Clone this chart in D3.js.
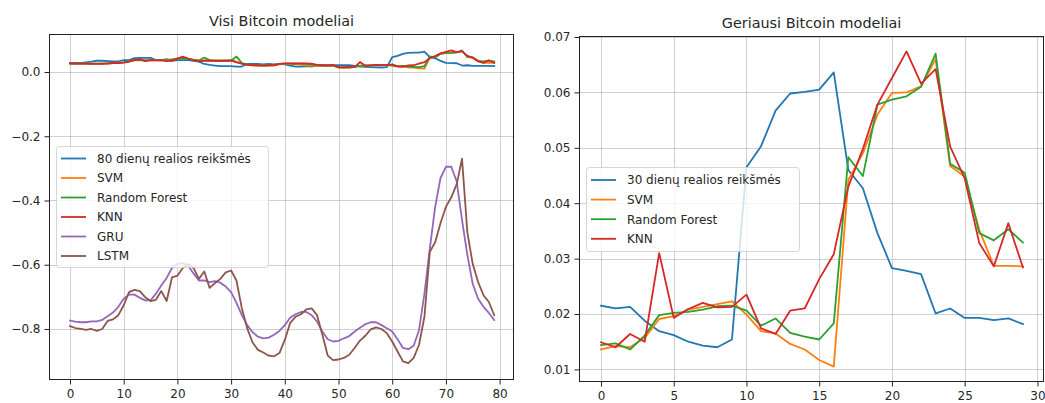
<!DOCTYPE html>
<html>
<head>
<meta charset="utf-8">
<script src="https://cdn.jsdelivr.net/npm/d3@7"></script>
<style>
body { margin: 0; background: #fff; }
text { font-family: "DejaVu Sans", sans-serif; fill: #262626; }
</style>
</head>
<body>
<div id="chart"></div>
<script>
// 80 day series (last 30 days are the ones shown on the right panel)
var real80 = [0.028, 0.028, 0.028, 0.030, 0.032, 0.035, 0.035, 0.034, 0.033, 0.033,
  0.037, 0.037, 0.043, 0.044, 0.044, 0.044, 0.037, 0.037, 0.040, 0.035,
  0.037, 0.037, 0.037, 0.035, 0.032, 0.025, 0.022, 0.020, 0.018, 0.018,
  0.018, 0.017, 0.017, 0.025, 0.025, 0.025, 0.024, 0.025, 0.024, 0.025,
  0.024, 0.020, 0.017, 0.017, 0.018, 0.017, 0.021, 0.021, 0.020, 0.021,
  0.0215, 0.0210, 0.0213, 0.0188, 0.0169, 0.0162, 0.0150, 0.0143, 0.0140, 0.0154,
  0.0465, 0.0503, 0.0567, 0.0598, 0.0601, 0.0605, 0.0636, 0.0460, 0.0427, 0.0346,
  0.0283, 0.0278, 0.0272, 0.0201, 0.0210, 0.0193, 0.0193, 0.0189, 0.0192, 0.0182];

var svm80 = [0.026, 0.026, 0.026, 0.026, 0.026, 0.026, 0.027, 0.027, 0.028, 0.029,
  0.030, 0.033, 0.036, 0.037, 0.036, 0.037, 0.036, 0.036, 0.038, 0.040,
  0.042, 0.044, 0.041, 0.038, 0.036, 0.036, 0.035, 0.035, 0.035, 0.035,
  0.036, 0.032, 0.026, 0.022, 0.021, 0.020, 0.020, 0.020, 0.021, 0.024,
  0.025, 0.025, 0.024, 0.023, 0.021, 0.019, 0.019, 0.019, 0.019, 0.020,
  0.0136, 0.0142, 0.0140, 0.0157, 0.0191, 0.0196, 0.0208, 0.0213, 0.0218, 0.0223,
  0.0199, 0.0169, 0.0165, 0.0146, 0.0136, 0.0117, 0.0105, 0.0442, 0.0490, 0.0560,
  0.0599, 0.0600, 0.0611, 0.0660, 0.0467, 0.0448, 0.0352, 0.0287, 0.0287, 0.0286];

var rf80 = [0.026, 0.026, 0.026, 0.026, 0.026, 0.026, 0.026, 0.027, 0.028, 0.029,
  0.030, 0.033, 0.037, 0.038, 0.036, 0.037, 0.037, 0.036, 0.036, 0.038,
  0.041, 0.043, 0.040, 0.038, 0.036, 0.045, 0.037, 0.035, 0.035, 0.035,
  0.035, 0.048, 0.028, 0.024, 0.022, 0.021, 0.021, 0.021, 0.022, 0.025,
  0.026, 0.026, 0.026, 0.026, 0.025, 0.023, 0.021, 0.020, 0.020, 0.021,
  0.0144, 0.0147, 0.0136, 0.0161, 0.0198, 0.0202, 0.0204, 0.0208, 0.0214, 0.0215,
  0.0206, 0.0179, 0.0192, 0.0166, 0.0159, 0.0154, 0.0183, 0.0483, 0.0449, 0.0578,
  0.0587, 0.0593, 0.0610, 0.0670, 0.0471, 0.0455, 0.0346, 0.0333, 0.0353, 0.0329];

var knn80 = [0.027, 0.026, 0.026, 0.026, 0.025, 0.025, 0.025, 0.026, 0.028, 0.028,
  0.029, 0.032, 0.038, 0.040, 0.034, 0.037, 0.036, 0.037, 0.034, 0.035,
  0.042, 0.048, 0.042, 0.037, 0.033, 0.035, 0.035, 0.035, 0.035, 0.035,
  0.036, 0.030, 0.026, 0.022, 0.021, 0.021, 0.020, 0.021, 0.021, 0.025,
  0.027, 0.027, 0.027, 0.027, 0.027, 0.026, 0.022, 0.021, 0.021, 0.021,
  0.0149, 0.0140, 0.0164, 0.0150, 0.0310, 0.0193, 0.0209, 0.0220, 0.0212, 0.0213,
  0.0235, 0.0174, 0.0164, 0.0206, 0.0210, 0.0263, 0.0308, 0.0430, 0.0498, 0.0578,
  0.0626, 0.0674, 0.0616, 0.0642, 0.0502, 0.0445, 0.0328, 0.0286, 0.0364, 0.0284];

var gru80 = [-0.774, -0.777, -0.779, -0.779, -0.776, -0.776, -0.772, -0.760, -0.749, -0.731,
  -0.706, -0.693, -0.693, -0.703, -0.711, -0.711, -0.690, -0.665, -0.641, -0.610,
  -0.598, -0.595, -0.603, -0.627, -0.649, -0.649, -0.654, -0.651, -0.656, -0.668,
  -0.685, -0.719, -0.757, -0.788, -0.810, -0.824, -0.829, -0.827, -0.818, -0.806,
  -0.788, -0.765, -0.754, -0.747, -0.747, -0.757, -0.777, -0.808, -0.832, -0.839,
  -0.837, -0.829, -0.822, -0.808, -0.796, -0.785, -0.779, -0.779, -0.788, -0.798,
  -0.808, -0.832, -0.859, -0.863, -0.852, -0.803, -0.690, -0.550, -0.420, -0.330,
  -0.295, -0.295, -0.340, -0.460, -0.570, -0.660, -0.706, -0.731, -0.750, -0.772];

var lstm80 = [-0.791, -0.797, -0.800, -0.803, -0.800, -0.806, -0.800, -0.775, -0.770, -0.757,
  -0.726, -0.685, -0.678, -0.682, -0.701, -0.713, -0.709, -0.682, -0.713, -0.639,
  -0.634, -0.610, -0.598, -0.610, -0.644, -0.621, -0.672, -0.657, -0.644, -0.624,
  -0.618, -0.649, -0.736, -0.798, -0.842, -0.865, -0.873, -0.883, -0.885, -0.875,
  -0.834, -0.781, -0.762, -0.754, -0.739, -0.736, -0.757, -0.818, -0.883, -0.897,
  -0.895, -0.890, -0.880, -0.859, -0.836, -0.821, -0.801, -0.795, -0.800, -0.813,
  -0.839, -0.870, -0.901, -0.906, -0.890, -0.849, -0.762, -0.560, -0.530, -0.470,
  -0.420, -0.390, -0.350, -0.270, -0.500, -0.598, -0.654, -0.695, -0.716, -0.757];

var leftNames = ["80 dienų realios reikšmės", "SVM", "Random Forest", "KNN", "GRU", "LSTM"];
var rightNames = ["30 dienų realios reikšmės", "SVM", "Random Forest", "KNN"];
var leftTicksX = [0, 10, 20, 30, 40, 50, 60, 70, 80];
var leftTicksY = [0.0, -0.2, -0.4, -0.6, -0.8];
var rightTicksX = [0, 5, 10, 15, 20, 25, 30];
var rightTicksY = [0.01, 0.02, 0.03, 0.04, 0.05, 0.06, 0.07];

var colors = ["#1f77b4", "#ff7f0e", "#2ca02c", "#d62728", "#9467bd", "#8c564b"];

var svg = d3.select("#chart")
  .append("svg")
  .attr("width", 1045)
  .attr("height", 403);

function drawPanel(p) {
  var x = d3.scaleLinear().domain(p.xDomain).range([p.left, p.right]);
  var y = d3.scaleLinear().domain(p.yDomain).range([p.bottom, p.top]);
  var g = svg.append("g");

  // grid
  g.append("g").selectAll("line").data(p.ticksX).enter().append("line")
    .attr("x1", d => Math.round(x(d)) + 0.5).attr("x2", d => Math.round(x(d)) + 0.5)
    .attr("y1", p.top).attr("y2", p.bottom)
    .attr("stroke", "#b0b0b0").attr("stroke-opacity", 0.6).attr("stroke-width", 1);
  g.append("g").selectAll("line").data(p.ticksY).enter().append("line")
    .attr("y1", d => Math.round(y(d)) + 0.5).attr("y2", d => Math.round(y(d)) + 0.5)
    .attr("x1", p.left).attr("x2", p.right)
    .attr("stroke", "#b0b0b0").attr("stroke-opacity", 0.6).attr("stroke-width", 1);

  // lines
  var line = d3.line().x((d, i) => x(i)).y(d => y(d));
  p.series.forEach(function(s, k) {
    g.append("path").datum(s)
      .attr("d", line)
      .attr("fill", "none")
      .attr("stroke", colors[k])
      .attr("stroke-width", 1.8)
      .attr("stroke-linejoin", "round")
      .attr("stroke-linecap", "square");
  });

  // axes
  var bottomAxis = d3.axisBottom(x).tickValues(p.ticksX).tickSize(4.5).tickPadding(5).tickFormat(d3.format("d"));
  var leftAxis = d3.axisLeft(y).tickValues(p.ticksY).tickSize(4.5).tickPadding(4).tickFormat(d3.format(p.fmt));
  var xa = g.append("g").attr("transform", `translate(0, ${p.bottom})`).call(bottomAxis);
  var ya = g.append("g").attr("transform", `translate(${p.left}, 0)`).call(leftAxis);
  [xa, ya].forEach(function(a) {
    a.select(".domain").remove();
    a.selectAll("line").attr("stroke", "#222");
    a.selectAll("text").attr("font-size", 12).attr("fill", "#262626");
  });

  // frame
  g.append("rect")
    .attr("x", p.left + 0.5).attr("y", p.top + 0.5)
    .attr("width", p.right - p.left - 1).attr("height", p.bottom - p.top - 1)
    .attr("fill", "none").attr("stroke", "#222").attr("stroke-width", 1);

  // title
  g.append("text")
    .attr("x", (p.left + p.right) / 2).attr("y", p.top - 8)
    .attr("text-anchor", "middle")
    .attr("font-size", 14.4)
    .text(p.title);

  // legend
  var lg = g.append("g");
  lg.append("rect")
    .attr("x", p.legend.x + 0.5).attr("y", p.legend.y + 0.5)
    .attr("width", p.legend.w).attr("height", p.legend.h)
    .attr("rx", 3)
    .attr("fill", "white").attr("fill-opacity", 0.8)
    .attr("stroke", "#cccccc").attr("stroke-opacity", 0.8);
  p.names.forEach(function(n, k) {
    var cy = p.legend.y + p.legend.first + k * p.legend.step;
    lg.append("line")
      .attr("x1", p.legend.x + 5).attr("x2", p.legend.x + 30)
      .attr("y1", cy).attr("y2", cy)
      .attr("stroke", colors[k]).attr("stroke-width", 1.8);
    lg.append("text")
      .attr("x", p.legend.x + 41).attr("y", cy + 4.3)
      .attr("font-size", 12)
      .text(n);
  });
}

drawPanel({
  title: "Visi Bitcoin modeliai",
  left: 49, right: 514, top: 34, bottom: 380,
  xDomain: [-3.91, 82.68], yDomain: [-0.9588, 0.1183],
  ticksX: leftTicksX, ticksY: leftTicksY, fmt: ".1f",
  series: [real80, svm80, rf80, knn80, gru80, lstm80],
  names: leftNames,
  legend: { x: 56, y: 146, w: 212, h: 121, first: 12.5, step: 19.5 }
});

drawPanel({
  title: "Geriausi Bitcoin modeliai",
  left: 579, right: 1044, top: 36, bottom: 382,
  xDomain: [-1.512, 30.45], yDomain: [0.00773, 0.07018],
  ticksX: rightTicksX, ticksY: rightTicksY, fmt: ".2f",
  series: [real80.slice(-30), svm80.slice(-30), rf80.slice(-30), knn80.slice(-30)],
  names: rightNames,
  legend: { x: 586, y: 167, w: 213, h: 84, first: 13, step: 19.6 }
});
</script>
</body>
</html>
